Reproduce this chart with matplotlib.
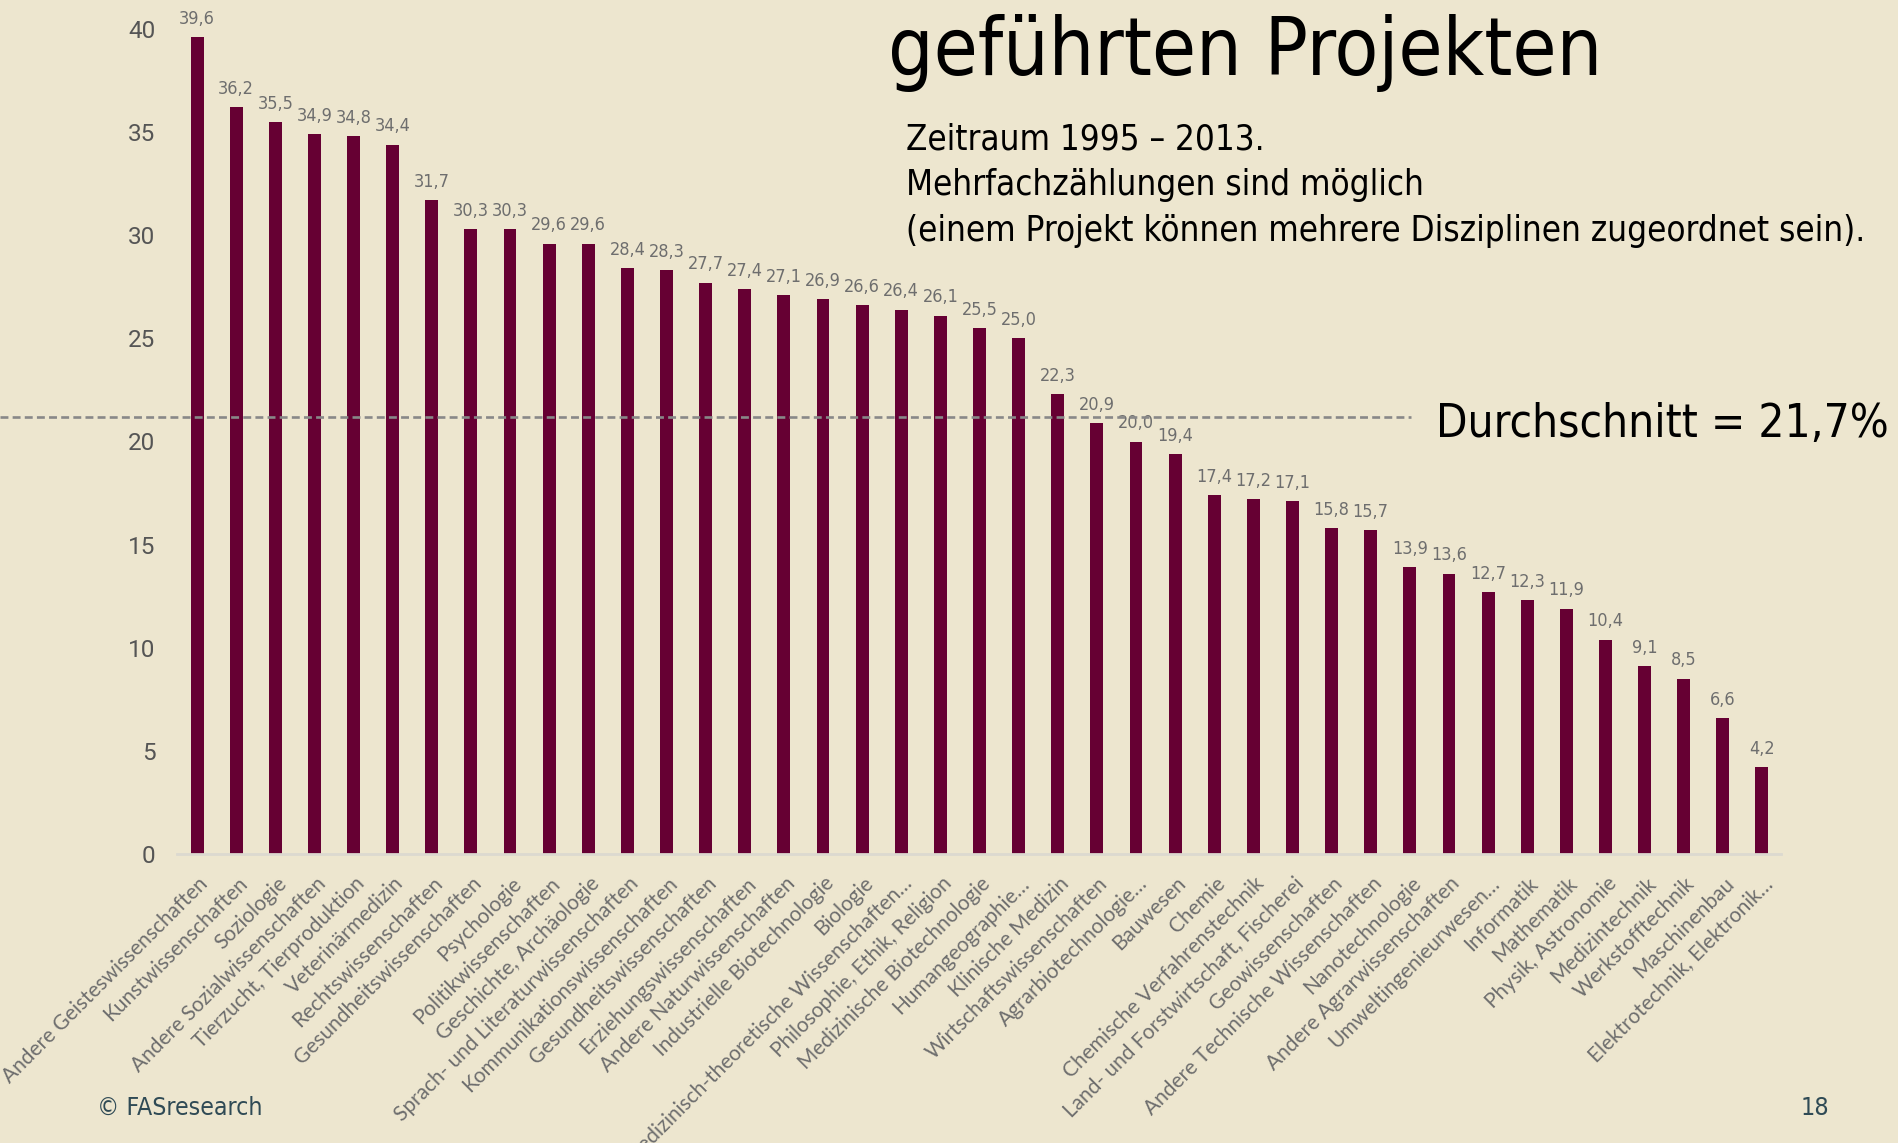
import matplotlib
matplotlib.use("Agg")
import matplotlib.pyplot as plt
from matplotlib import font_manager as fm
from matplotlib.transforms import ScaledTranslation, blended_transform_factory


categories = [
    "Andere Geisteswissenschaften", "Kunstwissenschaften", "Soziologie",
    "Andere Sozialwissenschaften", "Tierzucht, Tierproduktion", "Veterinärmedizin",
    "Rechtswissenschaften", "Gesundheitswissenschaften", "Psychologie",
    "Politikwissenschaften", "Geschichte, Archäologie", "Sprach- und Literaturwissenschaften",
    "Kommunikationswissenschaften", "Gesundheitswissenschaften", "Erziehungswissenschaften",
    "Andere Naturwissenschaften", "Industrielle Biotechnologie", "Biologie",
    "Medizinisch-theoretische Wissenschaften…", "Philosophie, Ethik, Religion",
    "Medizinische Biotechnologie", "Humangeographie…", "Klinische Medizin",
    "Wirtschaftswissenschaften", "Agrarbiotechnologie…", "Bauwesen", "Chemie",
    "Chemische Verfahrenstechnik", "Land- und Forstwirtschaft, Fischerei",
    "Geowissenschaften", "Andere Technische Wissenschaften", "Nanotechnologie",
    "Andere Agrarwissenschaften", "Umweltingenieurwesen…", "Informatik", "Mathematik",
    "Physik, Astronomie", "Medizintechnik", "Werkstofftechnik", "Maschinenbau",
    "Elektrotechnik, Elektronik…",
]
values = [
    39.6, 36.2, 35.5, 34.9, 34.8, 34.4, 31.7, 30.3, 30.3, 29.6, 29.6, 28.4, 28.3, 27.7,
    27.4, 27.1, 26.9, 26.6, 26.4, 26.1, 25.5, 25.0, 22.3, 20.9, 20.0, 19.4, 17.4, 17.2,
    17.1, 15.8, 15.7, 13.9, 13.6, 12.7, 12.3, 11.9, 10.4, 9.1, 8.5, 6.6, 4.2,
]
y_ticks = [0, 5, 10, 15, 20, 25, 30, 35, 40]
avg_line = 21.2
avg_text = "Durchschnitt = 21,7%"
title_text = "geführten Projekten"
note_lines = [
    "Zeitraum 1995 – 2013.",
    "Mehrfachzählungen sind möglich",
    "(einem Projekt können mehrere Disziplinen zugeordnet sein).",
]
footer_left = "© FASresearch"
footer_right = "18"

BG = "#ede6cf"
BAR = "#660033"
W, H = 1899, 1143


def condensed_font():
    for f in fm.fontManager.ttflist:
        cond = str(f.stretch) in ("condensed", "semi-condensed") or "Narrow" in f.name or "Condensed" in f.name
        regular = str(f.weight) in ("400", "normal", "regular", "book") and f.style == "normal"
        if cond and regular:
            return fm.FontProperties(fname=f.fname)
    return fm.FontProperties(family="Roboto")


def fx(px):
    return px / W


def fy(py):
    return 1 - py / H


COND = condensed_font()

fig = plt.figure(figsize=(W / 100, H / 100), dpi=100, facecolor=BG)
ax = fig.add_axes([fx(177.5), fy(854), fx(1781.5) - fx(177.5), fy(29) - fy(854)])
ax.set_facecolor(BG)

x = list(range(len(values)))
bars = ax.bar(x, values, width=0.33, color=BAR, zorder=2)
ax.set_xlim(-0.5, len(values) - 0.5)
ax.set_ylim(0, 40)

for xi, v in zip(x, values):
    ax.annotate(f"{v:.1f}".replace(".", ","), (xi, v), xytext=(0, 9.5), textcoords="offset points",
                ha="center", va="baseline", fontproperties=COND, fontsize=13, color="#6e6e6e",
                annotation_clip=False, zorder=3)

for s in ["top", "right", "left"]:
    ax.spines[s].set_visible(False)
ax.spines["bottom"].set_color("#dcd9d0")
ax.spines["bottom"].set_linewidth(2)

ax.set_yticks(y_ticks)
ax.tick_params(axis="y", length=0, pad=16, labelsize=17.5, labelcolor="#555555")
for lab in ax.get_yticklabels():
    lab.set_family("Roboto")

ax.set_xticks(x)
ax.set_xticklabels(categories, rotation=45, ha="right", va="center", rotation_mode="anchor",
                   fontsize=15, color="#6e6e6e", family="Lato")
ax.tick_params(axis="x", length=0, pad=19)
shift = ScaledTranslation(0.08, 0, fig.dpi_scale_trans)
for lab in ax.get_xticklabels():
    lab.set_transform(lab.get_transform() + shift)

# average line across the chart
trans = blended_transform_factory(fig.transFigure, ax.transData)
ax.plot([0, fx(1411)], [avg_line, avg_line], transform=trans, color="#888888", lw=1.9,
        linestyle=(0, (3, 1.6)), clip_on=False, zorder=4)

title = fig.text(fx(888), fy(75), title_text, fontproperties=COND, fontsize=60, color="black", va="baseline")
notes = []
for i, line in enumerate(note_lines):
    notes.append(fig.text(fx(906), fy(150 + 45.5 * i), line, fontproperties=COND, fontsize=28,
                          color="black", va="baseline"))
avg = fig.text(fx(1436), fy(437), avg_text, fontproperties=COND, fontsize=36, color="black", va="baseline")
foot_l = fig.text(fx(97), fy(1115), footer_left, fontproperties=COND, fontsize=18, color="#2f4a55", va="baseline")
foot_r = fig.text(fx(1829), fy(1115), footer_right, fontproperties=COND, fontsize=18, color="#2f4a55",
                  va="baseline", ha="right")

# scale the big texts so their widths match the slide
fig.canvas.draw()
r = fig.canvas.get_renderer()


def fit(txt, width):
    w = txt.get_window_extent(r).width
    txt.set_fontsize(txt.get_fontsize() * width / w)
    return width / w


fit(title, 714)
k = fit(notes[2], 956)
for t in notes[:2]:
    t.set_fontsize(t.get_fontsize() * k)
fit(avg, 453)
fit(foot_l, 166)

fig.savefig("out.png", dpi=100, facecolor=BG)
